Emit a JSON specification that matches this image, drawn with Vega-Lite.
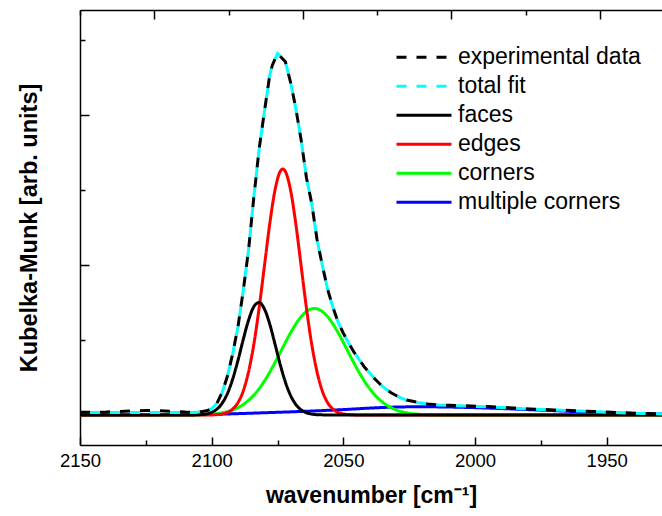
{
  "$schema": "https://vega.github.io/schema/vega-lite/v6.json",
  "width": 582,
  "height": 435,
  "autosize": {"type": "none"},
  "padding": {"left": 80, "top": 10, "right": 0, "bottom": 71},
  "config": {"view": {"stroke": null}, "font": "Liberation Sans", "axis": {"grid": false}},
  "datasets": {
    "spec": [
      {"series": "multiple corners", "wn": 2150, "km": 0},
      {"series": "multiple corners", "wn": 2140, "km": 0},
      {"series": "multiple corners", "wn": 2120, "km": 0.001},
      {"series": "multiple corners", "wn": 2110, "km": 0.002},
      {"series": "multiple corners", "wn": 2100, "km": 0.004},
      {"series": "multiple corners", "wn": 2090, "km": 0.009},
      {"series": "multiple corners", "wn": 2080, "km": 0.015},
      {"series": "multiple corners", "wn": 2070, "km": 0.021},
      {"series": "multiple corners", "wn": 2060, "km": 0.028},
      {"series": "multiple corners", "wn": 2050, "km": 0.036},
      {"series": "multiple corners", "wn": 2040, "km": 0.046},
      {"series": "multiple corners", "wn": 2030, "km": 0.053},
      {"series": "multiple corners", "wn": 2020, "km": 0.055},
      {"series": "multiple corners", "wn": 2010, "km": 0.053},
      {"series": "multiple corners", "wn": 2000, "km": 0.049},
      {"series": "multiple corners", "wn": 1990, "km": 0.043},
      {"series": "multiple corners", "wn": 1980, "km": 0.036},
      {"series": "multiple corners", "wn": 1970, "km": 0.029},
      {"series": "multiple corners", "wn": 1960, "km": 0.021},
      {"series": "multiple corners", "wn": 1950, "km": 0.015},
      {"series": "multiple corners", "wn": 1940, "km": 0.010},
      {"series": "multiple corners", "wn": 1929, "km": 0.006},

      {"series": "corners", "wn": 2150, "km": 0},
      {"series": "corners", "wn": 2106, "km": 0},
      {"series": "corners", "wn": 2104, "km": 0.001},
      {"series": "corners", "wn": 2102, "km": 0.003},
      {"series": "corners", "wn": 2100, "km": 0.006},
      {"series": "corners", "wn": 2098, "km": 0.009},
      {"series": "corners", "wn": 2096, "km": 0.015},
      {"series": "corners", "wn": 2094, "km": 0.022},
      {"series": "corners", "wn": 2092, "km": 0.034},
      {"series": "corners", "wn": 2090, "km": 0.049},
      {"series": "corners", "wn": 2088, "km": 0.070},
      {"series": "corners", "wn": 2086, "km": 0.098},
      {"series": "corners", "wn": 2084, "km": 0.132},
      {"series": "corners", "wn": 2082, "km": 0.175},
      {"series": "corners", "wn": 2080, "km": 0.226},
      {"series": "corners", "wn": 2078, "km": 0.284},
      {"series": "corners", "wn": 2076, "km": 0.348},
      {"series": "corners", "wn": 2074, "km": 0.415},
      {"series": "corners", "wn": 2072, "km": 0.484},
      {"series": "corners", "wn": 2070, "km": 0.549},
      {"series": "corners", "wn": 2068, "km": 0.608},
      {"series": "corners", "wn": 2066, "km": 0.656},
      {"series": "corners", "wn": 2064, "km": 0.690},
      {"series": "corners", "wn": 2062, "km": 0.708},
      {"series": "corners", "wn": 2061, "km": 0.710},
      {"series": "corners", "wn": 2060, "km": 0.708},
      {"series": "corners", "wn": 2058, "km": 0.690},
      {"series": "corners", "wn": 2056, "km": 0.656},
      {"series": "corners", "wn": 2054, "km": 0.608},
      {"series": "corners", "wn": 2052, "km": 0.549},
      {"series": "corners", "wn": 2050, "km": 0.484},
      {"series": "corners", "wn": 2048, "km": 0.415},
      {"series": "corners", "wn": 2046, "km": 0.348},
      {"series": "corners", "wn": 2044, "km": 0.284},
      {"series": "corners", "wn": 2042, "km": 0.226},
      {"series": "corners", "wn": 2040, "km": 0.175},
      {"series": "corners", "wn": 2038, "km": 0.132},
      {"series": "corners", "wn": 2036, "km": 0.098},
      {"series": "corners", "wn": 2034, "km": 0.070},
      {"series": "corners", "wn": 2032, "km": 0.049},
      {"series": "corners", "wn": 2030, "km": 0.034},
      {"series": "corners", "wn": 2028, "km": 0.022},
      {"series": "corners", "wn": 2026, "km": 0.015},
      {"series": "corners", "wn": 2024, "km": 0.009},
      {"series": "corners", "wn": 2022, "km": 0.006},
      {"series": "corners", "wn": 2020, "km": 0.003},
      {"series": "corners", "wn": 2016, "km": 0},
      {"series": "corners", "wn": 1929, "km": 0},

      {"series": "edges", "wn": 2150, "km": 0},
      {"series": "edges", "wn": 2100, "km": 0},
      {"series": "edges", "wn": 2098, "km": 0.003},
      {"series": "edges", "wn": 2096, "km": 0.007},
      {"series": "edges", "wn": 2094, "km": 0.017},
      {"series": "edges", "wn": 2092, "km": 0.040},
      {"series": "edges", "wn": 2090, "km": 0.083},
      {"series": "edges", "wn": 2088, "km": 0.161},
      {"series": "edges", "wn": 2086, "km": 0.288},
      {"series": "edges", "wn": 2084, "km": 0.471},
      {"series": "edges", "wn": 2082, "km": 0.711},
      {"series": "edges", "wn": 2080, "km": 0.989},
      {"series": "edges", "wn": 2078, "km": 1.268},
      {"series": "edges", "wn": 2076, "km": 1.495},
      {"series": "edges", "wn": 2074, "km": 1.623},
      {"series": "edges", "wn": 2073, "km": 1.640},
      {"series": "edges", "wn": 2072, "km": 1.623},
      {"series": "edges", "wn": 2070, "km": 1.495},
      {"series": "edges", "wn": 2068, "km": 1.268},
      {"series": "edges", "wn": 2066, "km": 0.989},
      {"series": "edges", "wn": 2064, "km": 0.711},
      {"series": "edges", "wn": 2062, "km": 0.471},
      {"series": "edges", "wn": 2060, "km": 0.288},
      {"series": "edges", "wn": 2058, "km": 0.161},
      {"series": "edges", "wn": 2056, "km": 0.083},
      {"series": "edges", "wn": 2054, "km": 0.040},
      {"series": "edges", "wn": 2052, "km": 0.017},
      {"series": "edges", "wn": 2050, "km": 0.007},
      {"series": "edges", "wn": 2048, "km": 0.003},
      {"series": "edges", "wn": 2046, "km": 0.001},
      {"series": "edges", "wn": 2044, "km": 0},
      {"series": "edges", "wn": 1929, "km": 0},

      {"series": "faces", "wn": 2150, "km": 0},
      {"series": "faces", "wn": 2108, "km": 0},
      {"series": "faces", "wn": 2106, "km": 0.001},
      {"series": "faces", "wn": 2104, "km": 0.003},
      {"series": "faces", "wn": 2102, "km": 0.007},
      {"series": "faces", "wn": 2100, "km": 0.018},
      {"series": "faces", "wn": 2098, "km": 0.039},
      {"series": "faces", "wn": 2096, "km": 0.079},
      {"series": "faces", "wn": 2094, "km": 0.144},
      {"series": "faces", "wn": 2092, "km": 0.241},
      {"series": "faces", "wn": 2090, "km": 0.365},
      {"series": "faces", "wn": 2088, "km": 0.504},
      {"series": "faces", "wn": 2086, "km": 0.632},
      {"series": "faces", "wn": 2084, "km": 0.722},
      {"series": "faces", "wn": 2082, "km": 0.750},
      {"series": "faces", "wn": 2080, "km": 0.708},
      {"series": "faces", "wn": 2078, "km": 0.609},
      {"series": "faces", "wn": 2076, "km": 0.476},
      {"series": "faces", "wn": 2074, "km": 0.338},
      {"series": "faces", "wn": 2072, "km": 0.219},
      {"series": "faces", "wn": 2070, "km": 0.129},
      {"series": "faces", "wn": 2068, "km": 0.069},
      {"series": "faces", "wn": 2066, "km": 0.034},
      {"series": "faces", "wn": 2064, "km": 0.015},
      {"series": "faces", "wn": 2062, "km": 0.006},
      {"series": "faces", "wn": 2060, "km": 0.002},
      {"series": "faces", "wn": 2058, "km": 0.001},
      {"series": "faces", "wn": 2056, "km": 0},
      {"series": "faces", "wn": 1929, "km": 0},

      {"series": "total fit", "wn": 2150, "km": 0.016},
      {"series": "total fit", "wn": 2130, "km": 0.016},
      {"series": "total fit", "wn": 2110, "km": 0.016},
      {"series": "total fit", "wn": 2106, "km": 0.017},
      {"series": "total fit", "wn": 2104, "km": 0.022},
      {"series": "total fit", "wn": 2102, "km": 0.028},
      {"series": "total fit", "wn": 2100, "km": 0.042},
      {"series": "total fit", "wn": 2098, "km": 0.078},
      {"series": "total fit", "wn": 2096, "km": 0.152},
      {"series": "total fit", "wn": 2094, "km": 0.26},
      {"series": "total fit", "wn": 2092, "km": 0.41},
      {"series": "total fit", "wn": 2090, "km": 0.59},
      {"series": "total fit", "wn": 2088, "km": 0.83},
      {"series": "total fit", "wn": 2086, "km": 1.10},
      {"series": "total fit", "wn": 2084, "km": 1.45},
      {"series": "total fit", "wn": 2082, "km": 1.77},
      {"series": "total fit", "wn": 2080, "km": 2.02},
      {"series": "total fit", "wn": 2078, "km": 2.26},
      {"series": "total fit", "wn": 2077, "km": 2.33},
      {"series": "total fit", "wn": 2075, "km": 2.41},
      {"series": "total fit", "wn": 2072, "km": 2.355},
      {"series": "total fit", "wn": 2070, "km": 2.215},
      {"series": "total fit", "wn": 2068, "km": 2.04},
      {"series": "total fit", "wn": 2066, "km": 1.83},
      {"series": "total fit", "wn": 2064, "km": 1.58},
      {"series": "total fit", "wn": 2062, "km": 1.41},
      {"series": "total fit", "wn": 2060, "km": 1.17},
      {"series": "total fit", "wn": 2058, "km": 1.00},
      {"series": "total fit", "wn": 2056, "km": 0.84},
      {"series": "total fit", "wn": 2054, "km": 0.72},
      {"series": "total fit", "wn": 2052, "km": 0.62},
      {"series": "total fit", "wn": 2050, "km": 0.545},
      {"series": "total fit", "wn": 2048, "km": 0.48},
      {"series": "total fit", "wn": 2046, "km": 0.42},
      {"series": "total fit", "wn": 2044, "km": 0.37},
      {"series": "total fit", "wn": 2042, "km": 0.32},
      {"series": "total fit", "wn": 2040, "km": 0.28},
      {"series": "total fit", "wn": 2038, "km": 0.24},
      {"series": "total fit", "wn": 2036, "km": 0.205},
      {"series": "total fit", "wn": 2034, "km": 0.175},
      {"series": "total fit", "wn": 2032, "km": 0.15},
      {"series": "total fit", "wn": 2030, "km": 0.13},
      {"series": "total fit", "wn": 2028, "km": 0.113},
      {"series": "total fit", "wn": 2026, "km": 0.098},
      {"series": "total fit", "wn": 2022, "km": 0.083},
      {"series": "total fit", "wn": 2018, "km": 0.073},
      {"series": "total fit", "wn": 2014, "km": 0.067},
      {"series": "total fit", "wn": 2010, "km": 0.064},
      {"series": "total fit", "wn": 2004, "km": 0.060},
      {"series": "total fit", "wn": 1995, "km": 0.054},
      {"series": "total fit", "wn": 1985, "km": 0.045},
      {"series": "total fit", "wn": 1979, "km": 0.039},
      {"series": "total fit", "wn": 1970, "km": 0.033},
      {"series": "total fit", "wn": 1960, "km": 0.026},
      {"series": "total fit", "wn": 1953, "km": 0.021},
      {"series": "total fit", "wn": 1945, "km": 0.015},
      {"series": "total fit", "wn": 1937, "km": 0.010},
      {"series": "total fit", "wn": 1929, "km": 0.007},

      {"series": "experimental data", "wn": 2150, "km": 0.018},
      {"series": "experimental data", "wn": 2145, "km": 0.018},
      {"series": "experimental data", "wn": 2140, "km": 0.020},
      {"series": "experimental data", "wn": 2135, "km": 0.024},
      {"series": "experimental data", "wn": 2130, "km": 0.028},
      {"series": "experimental data", "wn": 2125, "km": 0.030},
      {"series": "experimental data", "wn": 2120, "km": 0.029},
      {"series": "experimental data", "wn": 2115, "km": 0.025},
      {"series": "experimental data", "wn": 2110, "km": 0.020},
      {"series": "experimental data", "wn": 2106, "km": 0.018},
      {"series": "experimental data", "wn": 2104, "km": 0.022},
      {"series": "experimental data", "wn": 2102, "km": 0.028},
      {"series": "experimental data", "wn": 2100, "km": 0.042},
      {"series": "experimental data", "wn": 2098, "km": 0.078},
      {"series": "experimental data", "wn": 2096, "km": 0.152},
      {"series": "experimental data", "wn": 2094, "km": 0.26},
      {"series": "experimental data", "wn": 2092, "km": 0.41},
      {"series": "experimental data", "wn": 2090, "km": 0.59},
      {"series": "experimental data", "wn": 2088, "km": 0.83},
      {"series": "experimental data", "wn": 2086, "km": 1.10},
      {"series": "experimental data", "wn": 2084, "km": 1.45},
      {"series": "experimental data", "wn": 2082, "km": 1.77},
      {"series": "experimental data", "wn": 2080, "km": 2.02},
      {"series": "experimental data", "wn": 2078, "km": 2.26},
      {"series": "experimental data", "wn": 2077, "km": 2.33},
      {"series": "experimental data", "wn": 2075, "km": 2.41},
      {"series": "experimental data", "wn": 2072, "km": 2.355},
      {"series": "experimental data", "wn": 2070, "km": 2.215},
      {"series": "experimental data", "wn": 2068, "km": 2.04},
      {"series": "experimental data", "wn": 2066, "km": 1.83},
      {"series": "experimental data", "wn": 2064, "km": 1.58},
      {"series": "experimental data", "wn": 2062, "km": 1.41},
      {"series": "experimental data", "wn": 2060, "km": 1.17},
      {"series": "experimental data", "wn": 2058, "km": 1.00},
      {"series": "experimental data", "wn": 2056, "km": 0.84},
      {"series": "experimental data", "wn": 2054, "km": 0.72},
      {"series": "experimental data", "wn": 2052, "km": 0.62},
      {"series": "experimental data", "wn": 2050, "km": 0.545},
      {"series": "experimental data", "wn": 2048, "km": 0.48},
      {"series": "experimental data", "wn": 2046, "km": 0.42},
      {"series": "experimental data", "wn": 2044, "km": 0.37},
      {"series": "experimental data", "wn": 2042, "km": 0.32},
      {"series": "experimental data", "wn": 2040, "km": 0.28},
      {"series": "experimental data", "wn": 2038, "km": 0.24},
      {"series": "experimental data", "wn": 2036, "km": 0.205},
      {"series": "experimental data", "wn": 2034, "km": 0.175},
      {"series": "experimental data", "wn": 2032, "km": 0.15},
      {"series": "experimental data", "wn": 2030, "km": 0.13},
      {"series": "experimental data", "wn": 2028, "km": 0.115},
      {"series": "experimental data", "wn": 2026, "km": 0.10},
      {"series": "experimental data", "wn": 2022, "km": 0.085},
      {"series": "experimental data", "wn": 2018, "km": 0.074},
      {"series": "experimental data", "wn": 2014, "km": 0.068},
      {"series": "experimental data", "wn": 2010, "km": 0.065},
      {"series": "experimental data", "wn": 2004, "km": 0.062},
      {"series": "experimental data", "wn": 1995, "km": 0.056},
      {"series": "experimental data", "wn": 1985, "km": 0.046},
      {"series": "experimental data", "wn": 1979, "km": 0.040},
      {"series": "experimental data", "wn": 1970, "km": 0.034},
      {"series": "experimental data", "wn": 1960, "km": 0.027},
      {"series": "experimental data", "wn": 1953, "km": 0.022},
      {"series": "experimental data", "wn": 1945, "km": 0.016},
      {"series": "experimental data", "wn": 1937, "km": 0.011},
      {"series": "experimental data", "wn": 1929, "km": 0.007}
    ]
  },
  "data": {"name": "spec"},
  "resolve": {"axis": {"x": "independent"}},
  "layer": [
    {
      "transform": [{"filter": {"field": "series", "oneOf": ["multiple corners", "corners", "edges", "faces"]}}],
      "mark": {"type": "line", "strokeWidth": 3, "clip": true, "interpolate": "monotone"},
      "encoding": {
        "x": {
          "field": "wn", "type": "quantitative",
          "scale": {"domain": [2150, 1929], "nice": false, "zero": false},
          "axis": {
            "orient": "bottom",
            "values": [2150, 2125, 2100, 2075, 2050, 2025, 2000, 1975, 1950],
            "format": "d",
            "labelExpr": "datum.value % 50 === 0 ? datum.label : ''",
            "tickSize": {"condition": {"test": "datum.value % 50 === 0", "value": -8}, "value": -5},
            "tickColor": "black", "tickWidth": 1.5,
            "domainColor": "black", "domainWidth": 1.5,
            "labelFontSize": 18.5, "labelColor": "black", "labelPadding": 14.5,
            "labelFlush": false, "labelOverlap": false,
            "title": "wavenumber [cm⁻¹]", "titleFontSize": 23, "titleFontWeight": "bold",
            "titleColor": "black", "titlePadding": 11
          }
        },
        "y": {
          "field": "km", "type": "quantitative",
          "scale": {"domain": [-0.2, 2.7], "nice": false, "zero": false},
          "axis": {
            "orient": "left",
            "values": [0, 0.5, 1, 1.5, 2, 2.5],
            "labels": false,
            "tickSize": {"condition": {"test": "datum.value % 1 === 0", "value": -9}, "value": -5},
            "tickColor": "black", "tickWidth": 1.5,
            "domainColor": "black", "domainWidth": 1.5,
            "title": "Kubelka-Munk [arb. units]", "titleFontSize": 23.5, "titleFontWeight": "bold",
            "titleColor": "black", "titlePadding": 38
          }
        },
        "color": {
          "field": "series", "type": "nominal",
          "scale": {
            "domain": ["experimental data", "total fit", "faces", "edges", "corners", "multiple corners"],
            "range": ["#000000", "#00FFFF", "#000000", "#FF0000", "#00FF00", "#0000FF"]
          },
          "legend": {
            "title": null, "orient": "none", "legendX": 315, "legendY": 33,
            "symbolType": "stroke", "symbolSize": 3025, "symbolStrokeWidth": 3,
            "labelFontSize": 23, "labelColor": "black", "labelOffset": 5, "labelLimit": 400,
            "clipHeight": 28.7, "rowPadding": 0
          }
        },
        "strokeDash": {
          "field": "series", "type": "nominal",
          "scale": {
            "domain": ["experimental data", "total fit", "faces", "edges", "corners", "multiple corners"],
            "range": [[10, 10], [10, 10], [1, 0], [1, 0], [1, 0], [1, 0]]
          },
          "legend": {
            "title": null, "orient": "none", "legendX": 315, "legendY": 33,
            "symbolType": "stroke", "symbolSize": 3025, "symbolStrokeWidth": 3,
            "labelFontSize": 23, "labelColor": "black", "labelOffset": 5, "labelLimit": 400,
            "clipHeight": 28.7, "rowPadding": 0
          }
        }
      }
    },
    {
      "transform": [{"filter": {"field": "series", "equal": "total fit"}}],
      "mark": {"type": "line", "strokeWidth": 3, "clip": true, "strokeDashOffset": 10},
      "encoding": {
        "x": {
          "field": "wn", "type": "quantitative",
          "scale": {"domain": [2150, 1929], "nice": false, "zero": false},
          "axis": {
            "orient": "top",
            "values": [2150, 2121.8, 2093.6, 2065.4, 2037.2, 2009.0, 1980.8, 1952.6],
            "labels": false,
            "tickSize": {"condition": {"test": "round((2150 - datum.value) / 28.2) % 2 === 1", "value": -9}, "value": -5},
            "tickColor": "black", "tickWidth": 1.5,
            "domainColor": "black", "domainWidth": 1.5,
            "title": null
          }
        },
        "y": {"field": "km", "type": "quantitative"},
        "color": {"field": "series", "type": "nominal"},
        "strokeDash": {"field": "series", "type": "nominal"}
      }
    },
    {
      "transform": [{"filter": {"field": "series", "equal": "experimental data"}}],
      "mark": {"type": "line", "strokeWidth": 3, "clip": true},
      "encoding": {
        "x": {"field": "wn", "type": "quantitative", "axis": null},
        "y": {"field": "km", "type": "quantitative"},
        "color": {"field": "series", "type": "nominal"},
        "strokeDash": {"field": "series", "type": "nominal"}
      }
    }
  ]
}
